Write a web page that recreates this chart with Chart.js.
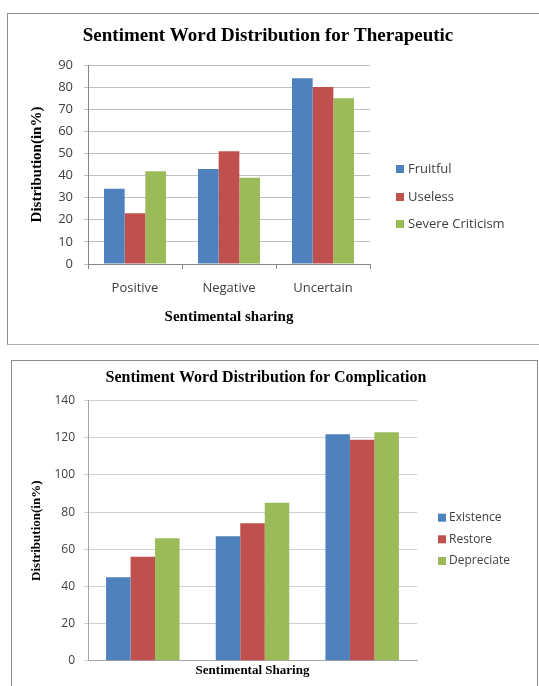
<!DOCTYPE html>
<html>
<head>
<meta charset="utf-8">
<script src="https://cdn.jsdelivr.net/npm/chart.js@4"></script>
<style>
  body { margin: 0; background: #fff; width: 539px; height: 686px; overflow: hidden; position: relative; }
  .frame { position: absolute; border: 1.5px solid #8c8c8c; }
  .holder { position: absolute; }
</style>
</head>
<body>
<div class="frame" style="left:7px; top:13px; width:560px; height:330px; border-bottom-color:#b0b0b0;"></div>
<div class="holder" style="left:7px; top:13px; width:522px; height:330px;"><canvas id="chart1"></canvas></div>

<div class="frame" style="left:11px; top:360px; width:525px; height:360px;"></div>
<div class="holder" style="left:11px; top:360px; width:510px; height:326px;"><canvas id="chart2"></canvas></div>

<script>
const categories1 = ['Positive', 'Negative', 'Uncertain'];
const fruitful = [34, 43, 84];
const useless = [23, 51, 80];
const severeCriticism = [42, 39, 75];

const categories2 = ['Positive', 'Negative', 'Uncertain'];
const existence = [45, 67, 122];
const restore = [56, 74, 119];
const depreciate = [66, 85, 123];

const blue = '#4f81bd';
const red = '#c0504d';
const green = '#9bbb59';

// legend drawn to the right of the plot, like the office chart
function sideLegend(dx, tx, ys, size, fontPx) {
  return {
    id: 'sideLegend',
    afterDraw(chart) {
      const c = chart.ctx;
      const a = chart.chartArea;
      c.save();
      c.font = fontPx + 'px "Open Sans"';
      c.textBaseline = 'middle';
      chart.data.datasets.forEach((ds, i) => {
        c.fillStyle = ds.backgroundColor;
        c.fillRect(a.right + dx, ys[i] - size / 2, size, size);
        c.fillStyle = '#404040';
        c.fillText(ds.label, a.right + tx, ys[i]);
      });
      c.restore();
    }
  };
}

// empty axis on the right that just keeps room for the legend
function spacer(w) {
  return {
    type: 'linear',
    position: 'right',
    afterFit: (s) => { s.width = w; },
    grid: { display: false },
    border: { display: false },
    ticks: { display: false }
  };
}

new Chart(document.getElementById('chart1'), {
  type: 'bar',
  data: {
    labels: categories1,
    datasets: [
      { label: 'Fruitful', data: fruitful, backgroundColor: blue },
      { label: 'Useless', data: useless, backgroundColor: red },
      { label: 'Severe Criticism', data: severeCriticism, backgroundColor: green }
    ]
  },
  options: {
    responsive: true,
    maintainAspectRatio: false,
    animation: false,
    layout: { padding: 0 },
    datasets: { bar: { categoryPercentage: 0.66, barPercentage: 1.0 } },
    plugins: {
      legend: { display: false },
      tooltip: { enabled: false },
      title: {
        display: true,
        text: 'Sentiment Word Distribution for Therapeutic',
        color: '#000',
        font: { family: '"Liberation Serif"', size: 19, weight: 'bold' },
        padding: { top: 11.6, bottom: 17.6 }
      }
    },
    scales: {
      x: {
        afterFit: (s) => { s.height = 79; },
        grid: { drawOnChartArea: false, drawTicks: true, tickLength: 5, color: '#868686' },
        border: { display: true, color: '#868686' },
        ticks: { color: '#404040', font: { family: '"Open Sans"', size: 13 }, padding: 11 },
        title: {
          display: true,
          text: 'Sentimental sharing',
          color: '#000',
          font: { family: '"Liberation Serif"', size: 15, weight: 'bold' },
          padding: { top: 0, bottom: 17 }
        }
      },
      y: {
        min: 0,
        max: 90,
        afterFit: (s) => { s.width = 81; },
        grid: { color: '#bfbfbf', tickLength: 4 },
        border: { display: true, color: '#868686' },
        ticks: { stepSize: 10, color: '#404040', font: { family: '"Open Sans"', size: 13 }, padding: 11 },
        title: {
          display: true,
          text: 'Distribution(in%)',
          color: '#000',
          font: { family: '"Liberation Serif"', size: 15, weight: 'bold' },
          padding: { top: 21, bottom: 0 }
        }
      },
      side: spacer(159)
    }
  },
  plugins: [sideLegend(26, 38, [156, 184, 211], 8, 13)]
});

new Chart(document.getElementById('chart2'), {
  type: 'bar',
  data: {
    labels: categories2,
    datasets: [
      { label: 'Existence', data: existence, backgroundColor: blue },
      { label: 'Restore', data: restore, backgroundColor: red },
      { label: 'Depreciate', data: depreciate, backgroundColor: green }
    ]
  },
  options: {
    responsive: true,
    maintainAspectRatio: false,
    animation: false,
    layout: { padding: 0 },
    datasets: { bar: { categoryPercentage: 0.67, barPercentage: 1.0 } },
    plugins: {
      legend: { display: false },
      tooltip: { enabled: false },
      title: {
        display: true,
        text: 'Sentiment Word Distribution for Complication',
        color: '#000',
        font: { family: '"Liberation Serif"', size: 16, weight: 'bold' },
        padding: { top: 8.4, bottom: 13.1 }
      }
    },
    scales: {
      x: {
        afterFit: (s) => { s.height = 25.3; },
        grid: { display: false },
        border: { display: true, color: '#a6a6a6' },
        ticks: { display: false },
        title: {
          display: true,
          text: 'Sentimental Sharing',
          color: '#000',
          font: { family: '"Liberation Serif"', size: 13, weight: 'bold' },
          padding: { top: 0, bottom: 7.5 }
        }
      },
      y: {
        min: 0,
        max: 140,
        afterFit: (s) => { s.width = 77; },
        grid: { color: '#d0d0d0', tickLength: 4 },
        border: { display: true, color: '#a6a6a6' },
        ticks: { stepSize: 20, color: '#404040', font: { family: '"Open Sans"', size: 12 }, padding: 9 },
        title: {
          display: true,
          text: 'Distribution(in%)',
          color: '#000',
          font: { family: '"Liberation Serif"', size: 13, weight: 'bold' },
          padding: { top: 18, bottom: 0 }
        }
      },
      side: spacer(104)
    }
  },
  plugins: [sideLegend(21, 32, [157.7, 179.3, 201], 8, 12)]
});
</script>
</body>
</html>
